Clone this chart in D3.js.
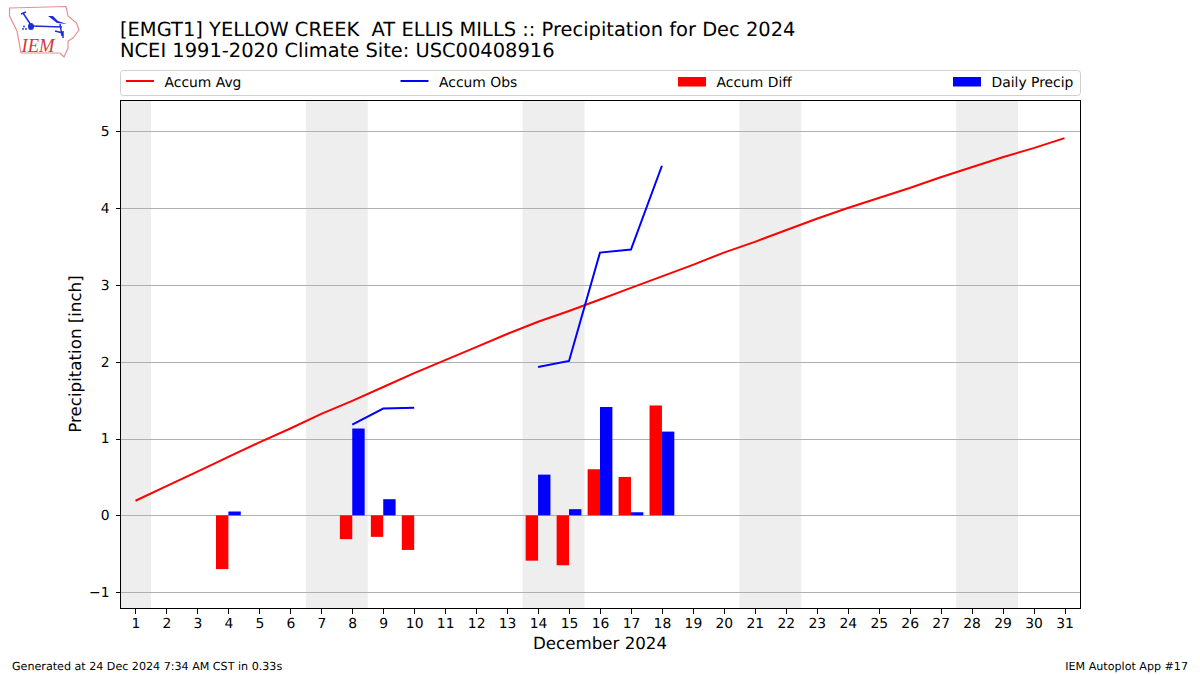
<!DOCTYPE html>
<html>
<head>
<meta charset="utf-8">
<title>Precipitation for Dec 2024</title>
<script src="https://cdn.jsdelivr.net/npm/d3@7"></script>
<style>
  body { margin: 0; background: #fff; }
  svg { display: block; }
  text { font-family: "DejaVu Sans", sans-serif; fill: #000; text-rendering: geometricPrecision; }
  .chart-title { font-size: 19.44px; }
  .axis-label { font-size: 16.67px; }
  .legend-label { font-size: 13.89px; }
  .footer { font-size: 11.11px; }
  .tick text { font-family: "DejaVu Sans", sans-serif; font-size: 13.89px; }
  .tick line { shape-rendering: crispEdges; }
</style>
</head>
<body>
<svg></svg>
<script>
const days = d3.range(1, 32)
const accumAvg = [0.19, 0.38, 0.57, 0.76, 0.95, 1.13, 1.32, 1.49, 1.67, 1.85, 2.02, 2.19, 2.36, 2.52, 2.66, 2.81,
  2.96, 3.11, 3.26, 3.42, 3.56, 3.71, 3.86, 4.00, 4.13, 4.26, 4.40, 4.53, 4.66, 4.78, 4.91]
// two stretches of observations, the rest of the month is missing
const obsDays = [8, 9, 10, null, 14, 15, 16, 17, 18]
const accumObs = [1.18, 1.39, 1.40, null, 1.93, 2.01, 3.42, 3.46, 4.55]
const diffDays = [4, 8, 9, 10, 14, 15, 16, 17, 18]
const accumDiff = [-0.70, -0.31, -0.28, -0.45, -0.59, -0.65, 0.60, 0.50, 1.43]
const precipDays = [4, 8, 9, 14, 15, 16, 17, 18]
const dailyPrecip = [0.05, 1.13, 0.21, 0.53, 0.08, 1.41, 0.04, 1.09]
// weekends, as [first day, last day]
const weekends = [[0.5, 1.5], [6.5, 8.5], [13.5, 15.5], [20.5, 22.5], [27.5, 29.5]]
const yTicks = [-1, 0, 1, 2, 3, 4, 5]
const legendNames = ['Accum Avg', 'Accum Obs', 'Accum Diff', 'Daily Precip']

const w = 1200
const h = 675
const plotLeft = 120
const plotRight = 1080
const plotTop = 100
const plotBottom = 608
const barWidth = 0.4

const svg = d3.select('svg')
  .attr('width', w)
  .attr('height', h)

const xScale = d3.scaleLinear().domain([0.5, 31.5]).range([plotLeft, plotRight])
const yScale = d3.scaleLinear().domain([-1.206, 5.406]).range([plotBottom, plotTop])

// weekend shading
svg.selectAll('.weekend')
  .data(weekends)
  .enter()
  .append('rect')
  .attr('class', 'weekend')
  .attr('x', (d) => xScale(d[0]))
  .attr('y', plotTop)
  .attr('width', (d) => xScale(d[1]) - xScale(d[0]))
  .attr('height', plotBottom - plotTop)
  .attr('fill', '#eeeeee')

// grid lines
svg.selectAll('.grid')
  .data(yTicks)
  .enter()
  .append('line')
  .attr('class', 'grid')
  .attr('x1', plotLeft)
  .attr('x2', plotRight)
  .attr('y1', (d) => Math.round(yScale(d)) + 0.5)
  .attr('y2', (d) => Math.round(yScale(d)) + 0.5)
  .attr('stroke', '#b0b0b0')
  .attr('stroke-width', 1)

// bars
svg.selectAll('.diff')
  .data(accumDiff)
  .enter()
  .append('rect')
  .attr('class', 'diff')
  .attr('x', (d, i) => xScale(diffDays[i] - barWidth))
  .attr('y', (d) => yScale(Math.max(d, 0)))
  .attr('width', xScale(barWidth) - xScale(0))
  .attr('height', (d) => Math.abs(yScale(d) - yScale(0)))
  .attr('fill', '#ff0000')

svg.selectAll('.precip')
  .data(dailyPrecip)
  .enter()
  .append('rect')
  .attr('class', 'precip')
  .attr('x', (d, i) => xScale(precipDays[i]))
  .attr('y', (d) => yScale(d))
  .attr('width', xScale(barWidth) - xScale(0))
  .attr('height', (d) => yScale(0) - yScale(d))
  .attr('fill', '#0000ff')

// accumulation lines
const avgLine = d3.line()
  .x((d, i) => xScale(days[i]))
  .y((d) => yScale(d))

svg.append('path')
  .attr('d', avgLine(accumAvg))
  .attr('fill', 'none')
  .attr('stroke', '#ff0000')
  .attr('stroke-width', 2)

const obsLine = d3.line()
  .defined((d) => d !== null)
  .x((d, i) => xScale(obsDays[i]))
  .y((d) => yScale(d))

svg.append('path')
  .attr('d', obsLine(accumObs))
  .attr('fill', 'none')
  .attr('stroke', '#0000ff')
  .attr('stroke-width', 2)

// axes
const xAxis = d3.axisBottom(xScale)
  .tickValues(days)
  .tickFormat(d3.format('d'))
  .tickSize(5)
  .tickPadding(5)
  .offset(0.5)

svg.append('g')
  .attr('transform', `translate(0, ${plotBottom + 0.5})`)
  .call(xAxis)
  .call((g) => g.select('.domain').remove())

const yAxis = d3.axisLeft(yScale)
  .tickValues(yTicks)
  .tickFormat((d) => d < 0 ? '\u2212' + Math.abs(d) : d)
  .tickSize(5)
  .tickPadding(6)
  .offset(0.5)

svg.append('g')
  .attr('transform', `translate(${plotLeft + 0.5}, 0)`)
  .call(yAxis)
  .call((g) => g.select('.domain').remove())

// plot frame
svg.append('rect')
  .attr('x', plotLeft + 0.5)
  .attr('y', plotTop + 0.5)
  .attr('width', plotRight - plotLeft)
  .attr('height', plotBottom - plotTop)
  .attr('fill', 'none')
  .attr('stroke', '#000')
  .attr('stroke-width', 1)

// axis labels
svg.append('text')
  .attr('class', 'axis-label')
  .attr('text-anchor', 'middle')
  .attr('x', (plotLeft + plotRight) / 2)
  .attr('y', 649)
  .text('December 2024')

svg.append('text')
  .attr('class', 'axis-label')
  .attr('text-anchor', 'middle')
  .attr('transform', `translate(80.5, ${(plotTop + plotBottom) / 2})rotate(-90)`)
  .text('Precipitation [inch]')

// titles
svg.append('text')
  .attr('class', 'chart-title')
  .attr('x', 120)
  .attr('y', 35.5)
  .style('white-space', 'pre')
  .text('[EMGT1] YELLOW CREEK  AT ELLIS MILLS :: Precipitation for Dec 2024')

svg.append('text')
  .attr('class', 'chart-title')
  .attr('x', 120)
  .attr('y', 57)
  .text('NCEI 1991-2020 Climate Site: USC00408916')

// legend
svg.append('rect')
  .attr('x', 120.5)
  .attr('y', 70.5)
  .attr('width', 960)
  .attr('height', 25)
  .attr('rx', 3)
  .attr('fill', '#fff')
  .attr('stroke', '#d0d0d0')

const legendX = [126, 400.5, 678, 953]
const legendColors = ['#ff0000', '#0000ff', '#ff0000', '#0000ff']

legendNames.forEach((name, i) => {
  if (i < 2) {
    svg.append('line')
      .attr('x1', legendX[i])
      .attr('x2', legendX[i] + 28)
      .attr('y1', 81)
      .attr('y2', 81)
      .attr('stroke', legendColors[i])
      .attr('stroke-width', 2)
  } else {
    svg.append('rect')
      .attr('x', legendX[i])
      .attr('y', 77)
      .attr('width', 28)
      .attr('height', 9.5)
      .attr('fill', legendColors[i])
  }
  svg.append('text')
    .attr('class', 'legend-label')
    .attr('x', legendX[i] + 38.5)
    .attr('y', 86.5)
    .text(name)
})

// footer
svg.append('text')
  .attr('class', 'footer')
  .attr('x', 12)
  .attr('y', 670)
  .text('Generated at 24 Dec 2024 7:34 AM CST in 0.33s')

svg.append('text')
  .attr('class', 'footer')
  .attr('text-anchor', 'end')
  .attr('x', 1188)
  .attr('y', 670)
  .text('IEM Autoplot App #17')

// IEM logo
const logo = svg.append('g').attr('class', 'logo')

logo.append('path')
  .attr('d', 'M9.5,8 L66,6.5 L68,16 L76.5,23 L79,30 L73,38 L68,41 L68,48 L64,57 L60,53 L21,53 L17,31 L9.5,16 Z')
  .attr('fill', 'none')
  .attr('stroke', '#e58f95')
  .attr('stroke-width', 1.2)

// wing and body of the weather vane
logo.append('path')
  .attr('d', 'M48,16 L53,16 L58,21 L67,24 L57,23 Z')
  .attr('fill', '#1c2fd6')

logo.append('path')
  .attr('d', 'M32,26 L62,27 M60,24 L62,36 M55,31 L63,33 M63,31 L63,38 M31,25 L23,13 M21,14 L26,12')
  .attr('fill', 'none')
  .attr('stroke', '#1c2fd6')
  .attr('stroke-width', 1.5)

logo.append('ellipse')
  .attr('cx', 31)
  .attr('cy', 26.5)
  .attr('rx', 3)
  .attr('ry', 3.6)
  .attr('fill', '#1c2fd6')

logo.selectAll('.drop')
  .data([[24, 26.5], [23, 29], [26, 29]])
  .enter()
  .append('circle')
  .attr('class', 'drop')
  .attr('cx', (d) => d[0])
  .attr('cy', (d) => d[1])
  .attr('r', 0.9)
  .attr('fill', '#1c2fd6')

logo.append('text')
  .attr('x', 21.5)
  .attr('y', 51.5)
  .attr('textLength', 33)
  .attr('lengthAdjust', 'spacingAndGlyphs')
  .style('font-family', '"Liberation Serif", serif')
  .style('font-style', 'italic')
  .style('font-size', '20px')
  .style('fill', '#d9333d')
  .text('IEM')
</script>
</body>
</html>
